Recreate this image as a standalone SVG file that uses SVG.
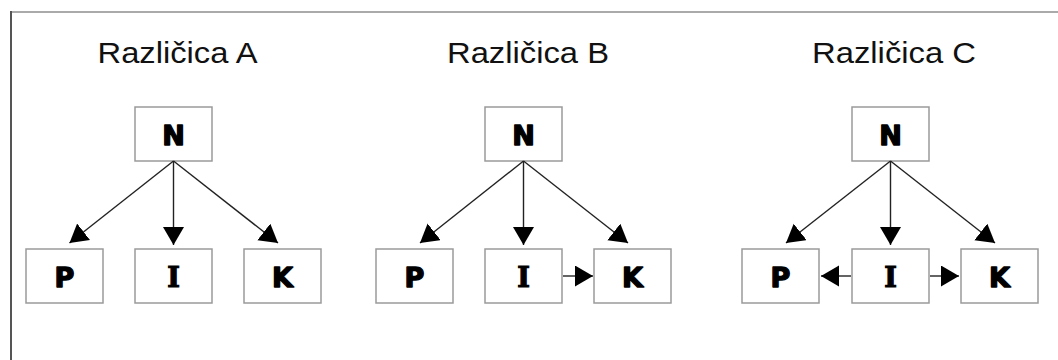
<svg xmlns="http://www.w3.org/2000/svg" width="1058" height="360" viewBox="0 0 1058 360">
  <style>
    .title { font-family: "Liberation Sans", Arial, sans-serif; font-size: 29px; fill: #111; text-anchor: middle; }
    .box { fill: #fff; stroke: #9a9a9a; stroke-width: 1.5; }
    .lbl { font-family: "DejaVu Sans", "Liberation Sans", sans-serif; font-weight: bold; font-size: 27px; fill: #000; stroke: #000; stroke-width: 1.4; stroke-linejoin: round; text-anchor: middle; }
    .lbl-i { font-family: "DejaVu Serif", "Liberation Serif", serif; font-weight: bold; font-size: 27px; fill: #000; stroke: #000; stroke-width: 1.2; text-anchor: middle; }
    .edge { stroke: #222; stroke-width: 1.4; fill: none; marker-end: url(#head); }
  </style>
  <defs>
    <marker id="head" markerUnits="userSpaceOnUse" markerWidth="20" markerHeight="22" refX="18" refY="10.5" orient="auto">
      <path d="M0,0 L18,10.5 L0,21 z" fill="#000"/>
    </marker>
  </defs>

  <rect width="1058" height="360" fill="#fff"/>
  <!-- frame -->
  <line x1="10" y1="12" x2="1058" y2="12" stroke="#aaa" stroke-width="2"/>
  <line x1="11" y1="11" x2="11" y2="360" stroke="#555" stroke-width="2"/>

  <!-- titles -->
  <text class="title" x="177.5" y="63" textLength="160" lengthAdjust="spacingAndGlyphs">Različica A</text>
  <text class="title" x="528" y="63" textLength="162" lengthAdjust="spacingAndGlyphs">Različica B</text>
  <text class="title" x="894" y="63" textLength="164" lengthAdjust="spacingAndGlyphs">Različica C</text>

  <!-- variant A -->
  <g id="a-n"><rect class="box" x="135" y="107" width="77" height="54"/><text class="lbl" x="173.5" y="144.5">N</text></g>
  <g id="a-p"><rect class="box" x="26" y="249" width="77" height="54"/><text class="lbl" x="64.5" y="286.5">P</text></g>
  <g id="a-i"><rect class="box" x="135" y="249" width="77" height="54"/><text class="lbl-i" x="173.5" y="286.5">I</text></g>
  <g id="a-k"><rect class="box" x="244" y="249" width="77" height="54"/><text class="lbl" x="282.5" y="286.5">K</text></g>

  <!-- variant B -->
  <g id="b-n"><rect class="box" x="485" y="107" width="77" height="54"/><text class="lbl" x="523.5" y="144.5">N</text></g>
  <g id="b-p"><rect class="box" x="376" y="249" width="77" height="54"/><text class="lbl" x="414.5" y="286.5">P</text></g>
  <g id="b-i"><rect class="box" x="485" y="249" width="77" height="54"/><text class="lbl-i" x="523.5" y="286.5">I</text></g>
  <g id="b-k"><rect class="box" x="594" y="249" width="77" height="54"/><text class="lbl" x="632.5" y="286.5">K</text></g>

  <!-- variant C -->
  <g id="c-n"><rect class="box" x="852" y="107" width="77" height="54"/><text class="lbl" x="890.5" y="144.5">N</text></g>
  <g id="c-p"><rect class="box" x="742" y="249" width="77" height="54"/><text class="lbl" x="780.5" y="286.5">P</text></g>
  <g id="c-i"><rect class="box" x="852" y="249" width="77" height="54"/><text class="lbl-i" x="890.5" y="286.5">I</text></g>
  <g id="c-k"><rect class="box" x="961" y="249" width="77" height="54"/><text class="lbl" x="999.5" y="286.5">K</text></g>

  <!-- connectors -->
  <g id="edges">
    <line class="edge" x1="173.5" y1="161" x2="69.5" y2="243"/>
    <line class="edge" x1="173.5" y1="161" x2="173.5" y2="245"/>
    <line class="edge" x1="173.5" y1="161" x2="278" y2="243"/>

    <line class="edge" x1="523.5" y1="161" x2="420" y2="243"/>
    <line class="edge" x1="523.5" y1="161" x2="523.5" y2="245"/>
    <line class="edge" x1="523.5" y1="161" x2="628" y2="243"/>
    <line class="edge" x1="563" y1="276" x2="593" y2="276"/>

    <line class="edge" x1="890.5" y1="161" x2="786" y2="243"/>
    <line class="edge" x1="890.5" y1="161" x2="890.5" y2="245"/>
    <line class="edge" x1="890.5" y1="161" x2="995" y2="243"/>
    <line class="edge" x1="851" y1="276" x2="821" y2="276"/>
    <line class="edge" x1="930" y1="276" x2="959" y2="276"/>
  </g>
</svg>
